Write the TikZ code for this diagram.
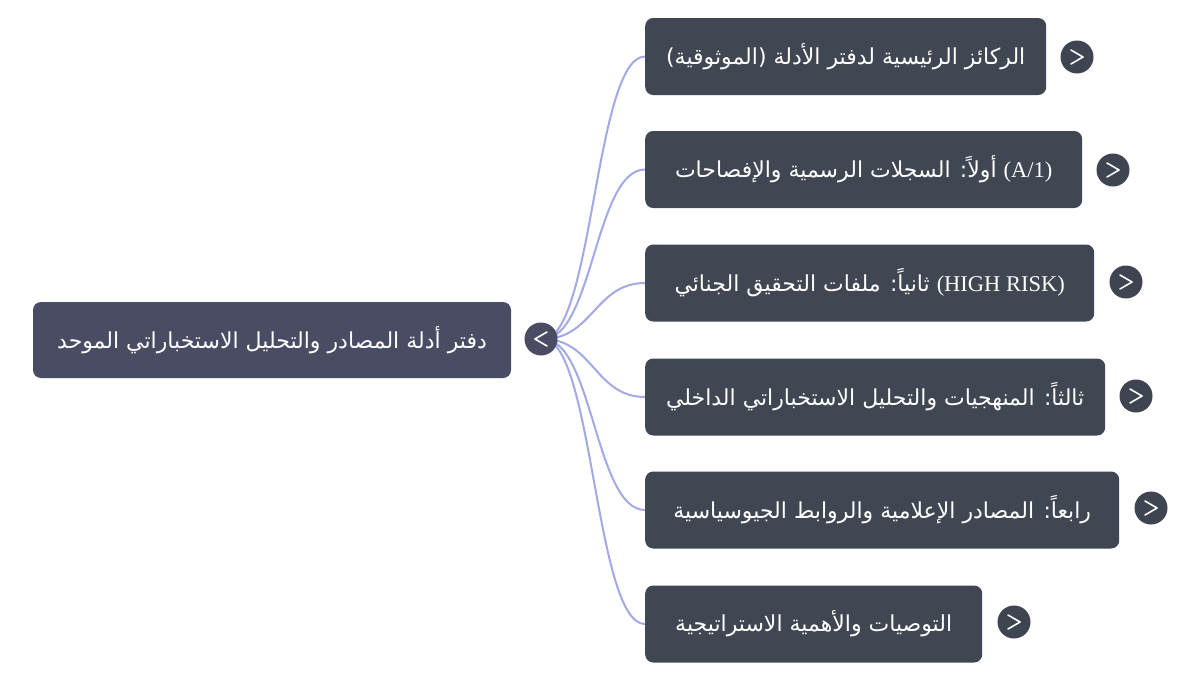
\documentclass[tikz,border=0pt]{standalone}
\usepackage{fontspec}
\setmainfont{Liberation Serif}
\newfontfamily\arabicfont[Script=Arabic]{DejaVu Sans}
\TeXXeTstate=1

\definecolor{rootgray}{HTML}{4A4C63}
\definecolor{topicgray}{HTML}{414752}
\definecolor{knobgray}{HTML}{3F4451}
\definecolor{branchblue}{HTML}{A3A8E6}

\tikzset{
  rootbox/.style={fill=rootgray, rounded corners=8pt, minimum width=478pt,
    minimum height=76pt, inner sep=0pt, text=white,
    font=\arabicfont\fontsize{22}{26}\selectfont},
  topicbox/.style={fill=topicgray, rounded corners=8pt, minimum height=77pt,
    inner sep=0pt, anchor=west, text=white,
    font=\arabicfont\fontsize{22}{26}\selectfont},
  knob/.style={circle, fill=knobgray, minimum size=33pt, inner sep=0pt},
  chevron/.style={draw=white, line width=1.6pt, line cap=round, line join=round},
  branch/.style={draw=branchblue, line width=2pt}
}
\newcommand{\latinpart}[1]{\beginL{\rmfamily\fontsize{22.5}{26}\selectfont #1}\endL{}}

\begin{document}
\begin{tikzpicture}[x=1pt,y=-1pt]
\useasboundingbox[fill=white] (0,0) rectangle (1200,680);

% root topic
\node[rootbox] (root) at (272,340) {\beginR دفتر أدلة المصادر والتحليل الاستخباراتي الموحد\endR};

% sub topics
\node[topicbox, minimum width=401pt] (t1) at (645,56.5) {\beginR الركائز الرئيسية لدفتر الأدلة (الموثوقية)\endR};
\node[topicbox, minimum width=437pt] (t2) at (645,169.5) {\beginR\latinpart{(A/1)} أولاً: السجلات الرسمية والإفصاحات\endR};
\node[topicbox, minimum width=449pt] (t3) at (645,283) {\beginR\latinpart{(HIGH RISK)} ثانياً: ملفات التحقيق الجنائي\endR};
\node[topicbox, minimum width=460pt] (t4) at (645,397) {\beginR ثالثاً: المنهجيات والتحليل الاستخباراتي الداخلي\endR};
\node[topicbox, minimum width=474pt] (t5) at (645,510) {\beginR رابعاً: المصادر الإعلامية والروابط الجيوسياسية\endR};
\node[topicbox, minimum width=337pt] (t6) at (645,624) {\beginR التوصيات والأهمية الاستراتيجية\endR};

% branches (behind the root knob)
\coordinate (hub) at (543,339);
\draw[branch] (hub) .. controls +(50,0) and +(-50,0) .. (t1.west);
\draw[branch] (hub) .. controls +(50,0) and +(-50,0) .. (t2.west);
\draw[branch] (hub) .. controls +(50,0) and +(-50,0) .. (t3.west);
\draw[branch] (hub) .. controls +(50,0) and +(-50,0) .. (t4.west);
\draw[branch] (hub) .. controls +(50,0) and +(-50,0) .. (t5.west);
\draw[branch] (hub) .. controls +(50,0) and +(-50,0) .. (t6.west);

% knobs
\node[knob, fill=rootgray] (rootknob) at (541,339) {};
\draw[chevron] ([xshift=6pt,yshift=7pt]rootknob.center) -- ++(-12,7) -- ++(12,7);
\node[knob] (k1) at (1077,57) {};
\node[knob] (k2) at (1113,170) {};
\node[knob] (k3) at (1126,282) {};
\node[knob] (k4) at (1136,396) {};
\node[knob] (k5) at (1151,508) {};
\node[knob] (k6) at (1014,622) {};
\draw[chevron] ([xshift=-6pt,yshift=7pt]k1.center) -- ++(12,7) -- ++(-12,7);
\draw[chevron] ([xshift=-6pt,yshift=7pt]k2.center) -- ++(12,7) -- ++(-12,7);
\draw[chevron] ([xshift=-6pt,yshift=7pt]k3.center) -- ++(12,7) -- ++(-12,7);
\draw[chevron] ([xshift=-6pt,yshift=7pt]k4.center) -- ++(12,7) -- ++(-12,7);
\draw[chevron] ([xshift=-6pt,yshift=7pt]k5.center) -- ++(12,7) -- ++(-12,7);
\draw[chevron] ([xshift=-6pt,yshift=7pt]k6.center) -- ++(12,7) -- ++(-12,7);
\end{tikzpicture}
\end{document}
